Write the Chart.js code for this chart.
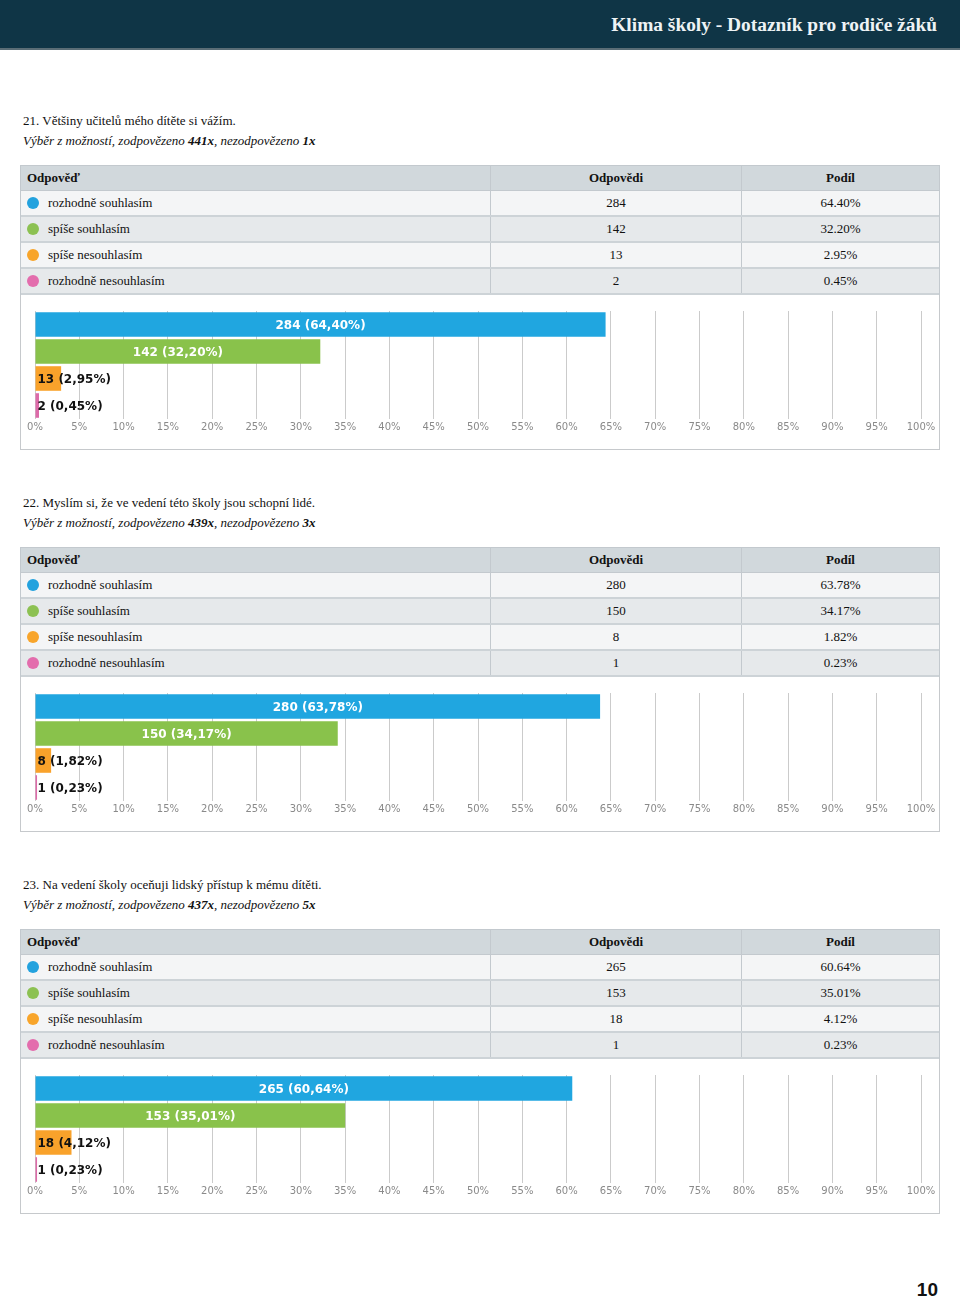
<!DOCTYPE html>
<html lang="cs">
<head>
<meta charset="utf-8">
<script src="https://cdn.jsdelivr.net/npm/chart.js@4.4.1/dist/chart.umd.min.js"></script>
<title>Klima školy - Dotazník pro rodiče žáků</title>
<style>
  body {
    margin: 0;
    width: 960px;
    height: 1298px;
    position: relative;
    background: #fff;
    font-family: "Liberation Serif", "Times New Roman", serif;
    color: #111;
  }
  .top {
    position: absolute;
    left: 0; top: 0;
    width: 960px; height: 48px;
    background: #0f3546;
    border-bottom: 2px solid #5a6d76;
  }
  .top h1 {
    position: absolute;
    right: 23px; top: 13px;
    margin: 0;
    font-size: 19.4px;
    line-height: 24px;
    font-weight: bold;
    color: #eef3f5;
  }
  .section {
    position: absolute;
    left: 20px;
    width: 920px;
  }
  .q {
    margin: 0 0 0 3px;
    font-size: 13px;
    line-height: 20px;
  }
  .q.sub { font-style: italic; }
  .tbl {
    margin-top: 14px;
    border-left: 1px solid #c3c9ce;
    border-right: 1px solid #c3c9ce;
    border-top: 1px solid #c3c9ce;
  }
  .row {
    display: flex;
    height: 26px;
    box-sizing: border-box;
    border-bottom: 2px solid #cdd3d7;
    font-size: 13px;
    line-height: 24px;
  }
  .row.head {
    height: 25px;
    background: #d1d8dc;
    font-weight: bold;
    border-bottom: 1px solid #c3c9ce;
  }
  .row.odd { background: #f4f5f6; }
  .row.even { background: #e6e9eb; }
  .c1 { width: 470px; border-right: 1px solid #c3c9ce; padding-left: 6px; box-sizing: border-box; display: flex; align-items: center; }
  .c2 { width: 251px; border-right: 1px solid #c3c9ce; text-align: center; box-sizing: border-box; }
  .c3 { width: 197px; text-align: center; }
  .dot { width: 12px; height: 12px; border-radius: 50%; margin-right: 9px; flex: none; }
  .chartbox {
    width: 920px;
    height: 155px;
    box-sizing: border-box;
    border: 1px solid #c6c9cc;
    border-top: none;
  }
  .page {
    position: absolute;
    right: 22px; top: 1279px;
    font-family: "Liberation Sans", Arial, sans-serif;
    font-weight: bold;
    font-size: 19px;
    line-height: 22px;
    color: #111;
  }
</style>
</head>
<body>
<div class="top"><h1>Klima školy - Dotazník pro rodiče žáků</h1></div>
<div id="sections"></div>
<div class="page">10</div>

<script>
// answer options and their colours
const categories = ['rozhodně souhlasím', 'spíše souhlasím', 'spíše nesouhlasím', 'rozhodně nesouhlasím'];
const barColors = ['#20a6e0', '#89c24b', '#f9a22b', '#dd6ba9'];
const dotColors = ['#23a2de', '#8cc152', '#f8a52b', '#e36dad'];

const questions = [
  '21. Většiny učitelů mého dítěte si vážím.',
  '22. Myslím si, že ve vedení této školy jsou schopní lidé.',
  '23. Na vedení školy oceňuji lidský přístup k mému dítěti.'
];
const answered = [441, 439, 437];
const unanswered = [1, 3, 5];

const counts21 = [284, 142, 13, 2];
const share21 = [64.40, 32.20, 2.95, 0.45];
const counts22 = [280, 150, 8, 1];
const share22 = [63.78, 34.17, 1.82, 0.23];
const counts23 = [265, 153, 18, 1];
const share23 = [60.64, 35.01, 4.12, 0.23];

const allCounts = [counts21, counts22, counts23];
const allShares = [share21, share22, share23];

// labels inside / next to the bars
const barLabels = {
  id: 'barLabels',
  afterDatasetsDraw(chart) {
    const ctx = chart.ctx;
    const meta = chart.getDatasetMeta(0);
    const counts = chart.data.datasets[0].counts;
    ctx.save();
    ctx.font = 'bold 12px "DejaVu Sans"';
    ctx.textBaseline = 'middle';
    meta.data.forEach((bar, i) => {
      const v = chart.data.datasets[0].data[i];
      const txt = counts[i] + ' (' + v.toFixed(2).replace('.', ',') + '%)';
      const w = ctx.measureText(txt).width;
      const bw = bar.x - bar.base;
      if (bw > w + 20) {
        ctx.fillStyle = '#fff';
        ctx.textAlign = 'center';
        ctx.fillText(txt, (bar.x + bar.base) / 2, bar.y + 1);
      } else {
        ctx.fillStyle = '#111';
        ctx.textAlign = 'left';
        ctx.fillText(txt, bar.base + 2, bar.y + 1);
      }
    });
    ctx.restore();
  }
};

const holder = document.getElementById('sections');

for (let q = 0; q < 3; q++) {
  const sec = document.createElement('div');
  sec.className = 'section';
  sec.style.top = (111 + q * 382) + 'px';

  let html = '<p class="q">' + questions[q] + '</p>';
  html += '<p class="q sub">Výběr z možností, zodpovězeno <b>' + answered[q] + 'x</b>, nezodpovězeno <b>' + unanswered[q] + 'x</b></p>';
  html += '<div class="tbl"><div class="row head"><div class="c1">Odpověď</div><div class="c2">Odpovědi</div><div class="c3">Podíl</div></div>';
  for (let i = 0; i < categories.length; i++) {
    html += '<div class="row ' + (i % 2 ? 'even' : 'odd') + '">' +
      '<div class="c1"><span class="dot" style="background:' + dotColors[i] + '"></span>' + categories[i] + '</div>' +
      '<div class="c2">' + allCounts[q][i] + '</div>' +
      '<div class="c3">' + allShares[q][i].toFixed(2) + '%</div></div>';
  }
  html += '</div>';
  html += '<div class="chartbox"><canvas id="chart' + q + '" width="918" height="154"></canvas></div>';
  sec.innerHTML = html;
  holder.appendChild(sec);

  new Chart(document.getElementById('chart' + q), {
    type: 'bar',
    data: {
      labels: categories,
      datasets: [{
        data: allShares[q],
        counts: allCounts[q],
        backgroundColor: barColors,
        barPercentage: 0.91,
        categoryPercentage: 1.0
      }]
    },
    options: {
      indexAxis: 'y',
      responsive: false,
      animation: false,
      layout: { padding: { top: 16, left: 14, right: 18, bottom: 14 } },
      plugins: { legend: { display: false }, tooltip: { enabled: false } },
      scales: {
        x: {
          min: 0,
          max: 100,
          border: { display: false },
          grid: { color: '#cbcbcb', drawTicks: false },
          ticks: {
            stepSize: 5,
            autoSkip: false,
            maxRotation: 0,
            padding: 2,
            color: '#8a8a8a',
            font: { family: 'DejaVu Sans', size: 10 },
            callback: v => v + '%'
          }
        },
        y: { display: false }
      }
    },
    plugins: [barLabels]
  });
}
</script>
</body>
</html>
